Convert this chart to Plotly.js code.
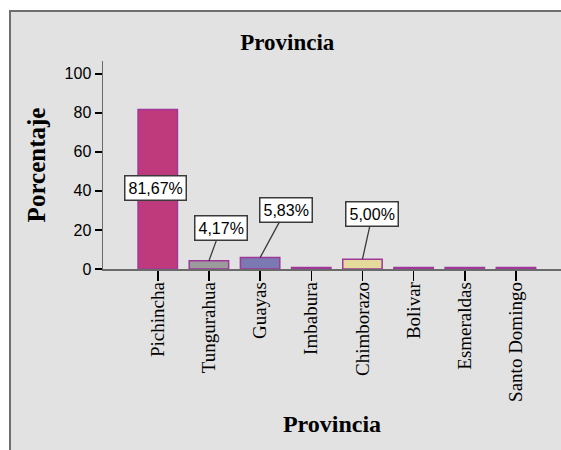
<!DOCTYPE html>
<html>
<head>
<meta charset="utf-8">
<script src="https://cdn.plot.ly/plotly-3.0.1.min.js"></script>
<style>
html,body{margin:0;padding:0;background:#ffffff;}
#frame{position:absolute;left:9px;top:10px;width:550px;height:438px;background:#e2e2e2;border-left:2px solid #6f6f6f;border-top:2px solid #6f6f6f;}
#chart{position:absolute;left:0;top:0;width:561px;height:450px;}
</style>
</head>
<body>
<div id="frame"></div>
<div id="chart"></div>
<script>
const provincias = ["Pichincha","Tungurahua","Guayas","Imbabura","Chimborazo","Bolivar","Esmeraldas","Santo Domingo"];
const porcentajes = [81.67, 4.17, 5.83, 0.83, 5.00, 0.83, 0.83, 0.83];
const etiquetas = ["81,67%","4,17%","5,83%",null,"5,00%",null,null,null];
const colores = ["#bf3a7c","#9b9b9b","#7b79b1","#b05aa8","#e3da9c","#b05aa8","#b05aa8","#b05aa8"];
const yTicks = [0,20,40,60,80,100];

const trace = {
  type: "bar",
  x: provincias,
  y: porcentajes,
  width: 0.77,
  marker: {color: colores, line: {color: "#a0389a", width: 1.5}},
  hoverinfo: "x+y",
  showlegend: false
};

// label placement (pixel offsets) per labelled bar
const offsets = {
  "Pichincha": {ax: -2, ay: 0, inside: 41.5},
  "Tungurahua": {ax: 12, ay: -33},
  "Guayas": {ax: 26, ay: -48},
  "Chimborazo": {ax: 10, ay: -45}
};

const annotations = [];
provincias.forEach((p, i) => {
  if (!etiquetas[i]) return;
  const o = offsets[p];
  const base = {
    text: etiquetas[i], xref: "x", yref: "y", x: p,
    font: {family: "Liberation Sans, Arial, sans-serif", size: 16, color: "#000"},
    bgcolor: "#ffffff", bordercolor: "#3a3a3a", borderwidth: 1.5, borderpad: 3
  };
  if (o.inside !== undefined) {
    annotations.push(Object.assign(base, {y: o.inside, showarrow: false, xshift: o.ax}));
  } else {
    annotations.push(Object.assign(base, {
      y: porcentajes[i], showarrow: true, arrowhead: 0, arrowwidth: 1.3,
      arrowcolor: "#3a3a3a", ax: o.ax, ay: o.ay, standoff: 0
    }));
  }
});

const layout = {
  width: 561, height: 450,
  margin: {l: 103, r: 0, t: 61, b: 181},
  paper_bgcolor: "rgba(0,0,0,0)",
  plot_bgcolor: "rgba(0,0,0,0)",
  title: {
    text: "Provincia",
    font: {family: "Liberation Serif, Times New Roman, serif", size: 23, color: "#000", weight: "bold"},
    xref: "container", yref: "container", x: 0.512, y: 0.907, xanchor: "center", yanchor: "middle"
  },
  xaxis: {
    type: "category",
    range: [-1.07, 7.88],
    tickangle: -90,
    ticks: "outside", ticklen: 10, tickwidth: 1.5, tickcolor: "#000",
    ticklabelstandoff: -6,
    showline: true, linecolor: "#6a6a6a", linewidth: 1.5,
    showgrid: false, zeroline: false,
    tickfont: {family: "Liberation Serif, Times New Roman, serif", size: 19, color: "#000"},
    title: {text: "Provincia", standoff: 14,
      font: {family: "Liberation Serif, Times New Roman, serif", size: 24, color: "#000", weight: "bold"}}
  },
  yaxis: {
    range: [0, 106.5],
    tickvals: yTicks,
    ticktext: yTicks.map(String),
    ticks: "outside", ticklen: 7, tickwidth: 2, tickcolor: "#000",
    showline: true, linecolor: "#6a6a6a", linewidth: 1.5,
    showgrid: false, zeroline: false,
    tickfont: {family: "Liberation Sans, Arial, sans-serif", size: 16, color: "#000"},
    title: {text: "Porcentaje", standoff: 12,
      font: {family: "Liberation Serif, Times New Roman, serif", size: 25, color: "#000", weight: "bold"}}
  },
  bargap: 0.23,
  annotations: annotations
};

Plotly.newPlot("chart", [trace], layout, {displayModeBar: false, staticPlot: true});
</script>
</body>
</html>
